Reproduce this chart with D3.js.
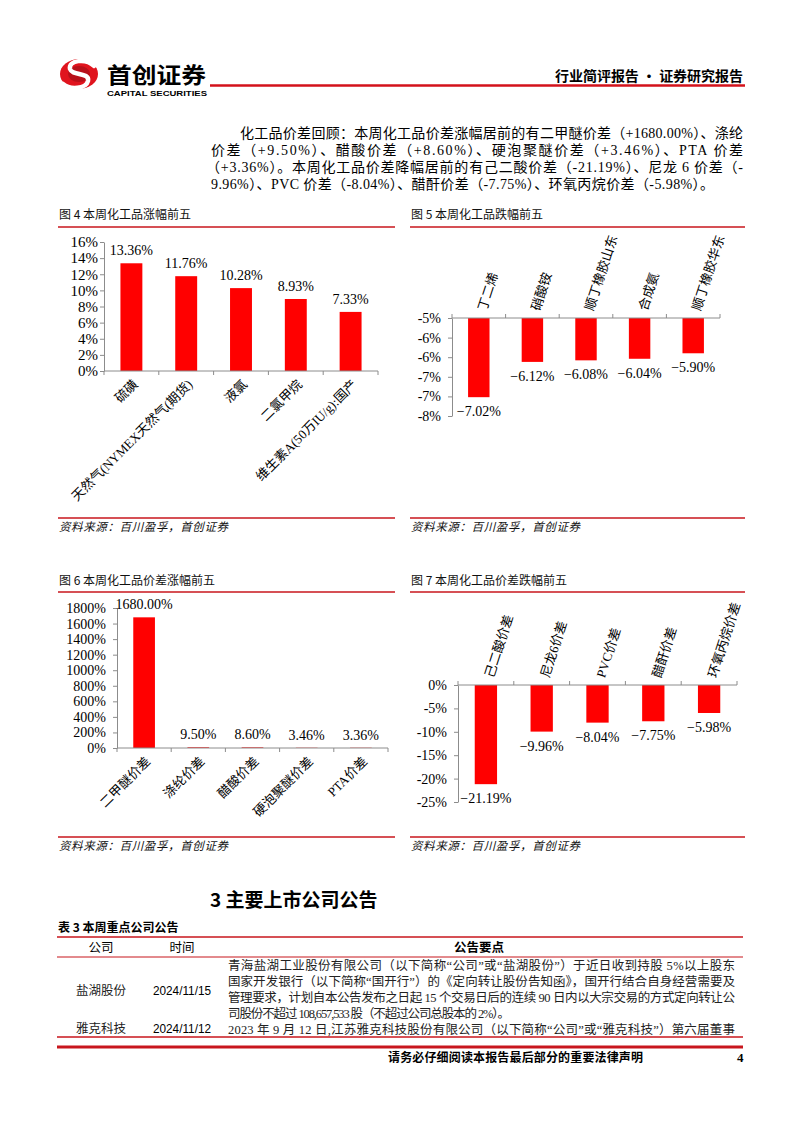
<!DOCTYPE html>
<html><head><meta charset="utf-8">
<script src="https://cdn.jsdelivr.net/npm/d3@7"></script>
<style>
body{margin:0;background:#fff;}
svg{display:block;background:#fff;}
</style></head><body>
<svg id="page" width="802" height="1133"></svg>
<script>
// ---------- DATA ----------
const fig4Categories = ["硫磺","天然气(NYMEX天然气(期货)","液氯","二氯甲烷","维生素A(50万IU/g):国产"];
const fig4Values = [13.36, 11.76, 10.28, 8.93, 7.33];
const fig4Ticks = [0,2,4,6,8,10,12,14,16];
const fig4TickLabels = ["0%","2%","4%","6%","8%","10%","12%","14%","16%"];

const fig5Categories = ["丁二烯","硝酸铵","顺丁橡胶山东","合成氨","顺丁橡胶华东"];
const fig5Values = [-7.02, -6.12, -6.08, -6.04, -5.90];
const fig5Ticks = [-5,-5.5,-6,-6.5,-7,-7.5];
const fig5TickLabels = ["-5%","-6%","-6%","-7%","-7%","-8%"];

const fig6Categories = ["二甲醚价差","涤纶价差","醋酸价差","硬泡聚醚价差","PTA价差"];
const fig6Values = [1680.00, 9.50, 8.60, 3.46, 3.36];
const fig6Ticks = [0,200,400,600,800,1000,1200,1400,1600,1800];
const fig6TickLabels = ["0%","200%","400%","600%","800%","1000%","1200%","1400%","1600%","1800%"];

const fig7Categories = ["己二酸价差","尼龙6价差","PVC价差","醋酐价差","环氧丙烷价差"];
const fig7Values = [-21.19, -9.96, -8.04, -7.75, -5.98];
const fig7Ticks = [0,-5,-10,-15,-20,-25];
const fig7TickLabels = ["0%","-5%","-10%","-15%","-20%","-25%"];

const paragraphLines = [
  "化工品价差回顾：本周化工品价差涨幅居前的有二甲醚价差（+1680.00%）、涤纶",
  "价差（+9.50%）、醋酸价差（+8.60%）、硬泡聚醚价差（+3.46%）、PTA 价差",
  "（+3.36%）。本周化工品价差降幅居前的有己二酸价差（-21.19%）、尼龙 6 价差（-",
  "9.96%）、PVC 价差（-8.04%）、醋酐价差（-7.75%）、环氧丙烷价差（-5.98%）。"
];
const tableHeaders = ["公司","时间","公告要点"];
const tableCompanies = ["盐湖股份","雅克科技"];
const tableDates = ["2024/11/15","2024/11/12"];
const tableRow1Lines = [
  "青海盐湖工业股份有限公司（以下简称“公司”或“盐湖股份”）于近日收到持股 5%以上股东",
  "国家开发银行（以下简称“国开行”）的《定向转让股份告知函》，国开行结合自身经营需要及",
  "管理要求，计划自本公告发布之日起 15 个交易日后的连续 90 日内以大宗交易的方式定向转让公",
  "司股份不超过 108,657,533 股（不超过公司总股本的 2%）。"
];
const tableRow2Lines = [
  "2023 年 9 月 12 日,江苏雅克科技股份有限公司（以下简称“公司”或“雅克科技”）第六届董事"
];

// ---------- STYLE ----------
const svg = d3.select("#page");
const RED_LINE = "#c8161d";
const BAR = "#ff0000";
const AXIS = "#8c8c8c";
const SERIF = "'Liberation Serif','Times New Roman','Noto Sans CJK SC',serif";
const CJK = "'Noto Sans CJK SC','Noto Sans CJK TC',sans-serif";
const SANS = "'Liberation Sans','Noto Sans CJK SC',sans-serif";

svg.append("rect").attr("width",802).attr("height",1133).attr("fill","#fff");

// ---------- HEADER ----------
const logo = svg.append("g");
logo.append("ellipse").attr("cx",79).attr("cy",74).attr("rx",19).attr("ry",15).attr("fill","#e0141e");
logo.append("ellipse").attr("cx",79).attr("cy",74).attr("rx",11).attr("ry",8).attr("fill","#b8101a");
logo.append("path")
  .attr("d","M94 66 C86 58,68 60,70 69 C72 76,90 72,88 81 C86 89,70 90,63 84")
  .attr("fill","none").attr("stroke","#fff").attr("stroke-width",4.5).attr("stroke-linecap","round");
svg.append("text").attr("x",107).attr("y",83).attr("font-family",CJK).attr("font-weight","bold")
  .attr("font-size",22).attr("textLength",99).attr("lengthAdjust","spacingAndGlyphs").text("首创证券");
svg.append("text").attr("x",107).attr("y",95.5).attr("font-family","'Liberation Sans',sans-serif").attr("font-weight","bold")
  .attr("font-size",8).attr("textLength",100).attr("lengthAdjust","spacingAndGlyphs").text("CAPITAL SECURITIES");
svg.append("line").attr("x1",210).attr("x2",745).attr("y1",85.5).attr("y2",85.5).attr("stroke","#d3121b").attr("stroke-width",2.5);
svg.append("text").attr("x",555).attr("y",81).attr("font-family",CJK).attr("font-weight","bold")
  .attr("font-size",14).attr("textLength",188).attr("lengthAdjust","spacing").text("行业简评报告 · 证券研究报告");

// ---------- PARAGRAPH ----------
const paraX = [240,211,206,211];
const paraW = [503,532,537,503];
const paraY = [138,155,172,189];
paragraphLines.forEach((t,i)=>{
  svg.append("text").attr("x",paraX[i]).attr("y",paraY[i]).attr("font-family",SERIF)
    .attr("font-size",14).attr("textLength",paraW[i]).attr("lengthAdjust","spacing").text(t);
});

// ---------- CHART FRAMES ----------
function frame(x0,x1,titleY,lineY,bottomY,title){
  svg.append("text").attr("x",x0+1).attr("y",titleY).attr("font-family",CJK).attr("font-size",12).attr("fill","#111").text(title);
  svg.append("line").attr("x1",x0).attr("x2",x1).attr("y1",lineY).attr("y2",lineY).attr("stroke",RED_LINE).attr("stroke-width",1.5);
  svg.append("line").attr("x1",x0).attr("x2",x1).attr("y1",bottomY).attr("y2",bottomY).attr("stroke",RED_LINE).attr("stroke-width",1.5);
  svg.append("text").attr("x",x0+1).attr("y",bottomY+13).attr("font-family",CJK).attr("font-size",11.5)
    .attr("font-style","italic").attr("textLength",169).attr("lengthAdjust","spacing")
    .attr("fill","#111").text("资料来源：百川盈孚，首创证券");
}
frame(58,395,219,227,518,"图 4 本周化工品涨幅前五");
frame(410,745,219,227,518,"图 5 本周化工品跌幅前五");
frame(58,395,585,592,837,"图 6 本周化工品价差涨幅前五");
frame(410,745,585,592,837,"图 7 本周化工品价差跌幅前五");

// ---------- BAR CHART ----------
function drawBar(cfg){
  const g = svg.append("g");
  const x = d3.scaleBand().domain(cfg.categories).range(cfg.xRange).paddingInner(0.6).paddingOuter(0.3);
  const y = d3.scaleLinear().domain(cfg.yDomain).range(cfg.yRange);
  const base = y(cfg.baseValue);
  const fmt = v => d3.format(".2f")(v) + "%";

  g.selectAll("rect.bar").data(cfg.values).join("rect").attr("class","bar")
    .attr("x",(d,i)=>x(cfg.categories[i])).attr("width",x.bandwidth())
    .attr("y",d=>Math.min(y(d),base)).attr("height",d=>Math.abs(y(d)-base)).attr("fill",BAR);

  const ya = d3.axisLeft(y).tickValues(cfg.ticks).tickFormat((d,i)=>cfg.tickLabels[i])
    .tickSize(4).tickSizeOuter(0).tickPadding(cfg.tickPad);
  const yg = g.append("g").attr("transform",`translate(${cfg.xRange[0]},0)`).call(ya);
  yg.select(".domain").attr("stroke",AXIS);
  yg.selectAll(".tick line").attr("stroke",AXIS);
  yg.selectAll(".tick text").attr("font-family",SERIF).attr("font-size",cfg.tickFont).attr("fill","#000");

  g.append("line").attr("x1",cfg.xRange[0]).attr("x2",cfg.xRange[1]).attr("y1",base).attr("y2",base).attr("stroke",AXIS);
  const dir = cfg.valueBelow ? -1 : 1;
  g.selectAll("line.xt").data(d3.range(cfg.categories.length+1)).join("line").attr("class","xt")
    .attr("x1",i=>cfg.xRange[0]+i*x.step()).attr("x2",i=>cfg.xRange[0]+i*x.step())
    .attr("y1",base).attr("y2",base+4*dir).attr("stroke",AXIS);

  g.selectAll("text.val").data(cfg.values).join("text").attr("class","val")
    .attr("x",(d,i)=>x(cfg.categories[i])+x.bandwidth()/2)
    .attr("y",d=> cfg.valueBelow ? y(d)+19 : y(d)-8)
    .attr("text-anchor","middle").attr("font-family",SERIF).attr("font-size",14).text(fmt);

  g.selectAll("text.cat").data(cfg.categories).join("text").attr("class","cat")
    .attr("font-family",SERIF).attr("font-size",13).attr("dy","0.35em")
    .attr("text-anchor", cfg.valueBelow ? "start" : "end")
    .attr("transform",d=>{
      const cx = x(d)+x.bandwidth()/2;
      return cfg.valueBelow
        ? `translate(${cx+3},${base-8}) rotate(-72)`
        : `translate(${cx+4},${base+11}) rotate(-45)`;
    })
    .text(d=>d);
}

drawBar({categories:fig4Categories, values:fig4Values, ticks:fig4Ticks, tickLabels:fig4TickLabels,
  xRange:[104,378], yDomain:[0,16], yRange:[371,242], baseValue:0, valueBelow:false, tickPad:2, tickFont:15});
drawBar({categories:fig5Categories, values:fig5Values, ticks:fig5Ticks, tickLabels:fig5TickLabels,
  xRange:[452,720], yDomain:[-7.5,-5], yRange:[416,318], baseValue:-5, valueBelow:true, tickPad:7, tickFont:14});
drawBar({categories:fig6Categories, values:fig6Values, ticks:fig6Ticks, tickLabels:fig6TickLabels,
  xRange:[117,388], yDomain:[0,1800], yRange:[748,608], baseValue:0, valueBelow:false, tickPad:7, tickFont:14});
drawBar({categories:fig7Categories, values:fig7Values, ticks:fig7Ticks, tickLabels:fig7TickLabels,
  xRange:[458,737], yDomain:[-25,0], yRange:[802,685], baseValue:0, valueBelow:true, tickPad:7, tickFont:14});

// ---------- SECTION 3 ----------
svg.append("text").attr("x",210).attr("y",907).attr("font-family",CJK).attr("font-weight","bold")
  .attr("font-size",19).text("3 主要上市公司公告");
svg.append("text").attr("x",58).attr("y",932).attr("font-family",CJK).attr("font-weight","bold")
  .attr("font-size",12).text("表 3 本周重点公司公告");

const tx0 = 57, tx1 = 743;
svg.append("line").attr("x1",tx0).attr("x2",tx1).attr("y1",937).attr("y2",937).attr("stroke",RED_LINE).attr("stroke-width",1.5);
svg.append("line").attr("x1",tx0).attr("x2",tx1).attr("y1",957).attr("y2",957).attr("stroke",RED_LINE).attr("stroke-width",1.2);
svg.append("line").attr("x1",tx0).attr("x2",tx1).attr("y1",1037).attr("y2",1037).attr("stroke",RED_LINE).attr("stroke-width",1.5);
svg.append("line").attr("x1",tx0).attr("x2",tx1).attr("y1",1047).attr("y2",1047).attr("stroke",RED_LINE).attr("stroke-width",3);

const headX = [101,182,479];
tableHeaders.forEach((h,i)=>{
  svg.append("text").attr("x",headX[i]).attr("y",952).attr("text-anchor","middle").attr("font-family",CJK)
    .attr("font-size",12.5).attr("font-weight", i===2 ? "bold" : "normal").text(h);
});
const rowY = [995,1033];
tableCompanies.forEach((c,i)=>{
  svg.append("text").attr("x",101).attr("y",rowY[i]).attr("text-anchor","middle").attr("font-family",CJK)
    .attr("font-size",12.5).attr("fill","#222").text(c);
  svg.append("text").attr("x",182).attr("y",rowY[i]).attr("text-anchor","middle").attr("font-family",SANS)
    .attr("font-size",12.5).attr("textLength",58).attr("lengthAdjust","spacingAndGlyphs").text(tableDates[i]);
});
const bodyW = [507,507,507,282];
tableRow1Lines.forEach((t,i)=>{
  svg.append("text").attr("x",228).attr("y",970+i*16).attr("font-family",SERIF).attr("font-size",12.5)
    .attr("fill","#222").attr("textLength",bodyW[i]).attr("lengthAdjust","spacing").text(t);
});
tableRow2Lines.forEach((t,i)=>{
  svg.append("text").attr("x",228).attr("y",1034).attr("font-family",SERIF).attr("font-size",12.5)
    .attr("fill","#222").attr("textLength",507).attr("lengthAdjust","spacing").text(t);
});

// ---------- FOOTER ----------
svg.append("text").attr("x",388).attr("y",1062).attr("font-family",CJK).attr("font-weight","bold")
  .attr("font-size",12).attr("textLength",255).attr("lengthAdjust","spacing").text("请务必仔细阅读本报告最后部分的重要法律声明");
svg.append("text").attr("x",737).attr("y",1062).attr("font-family",SERIF).attr("font-weight","bold")
  .attr("font-size",13).text("4");
</script>
</body></html>
